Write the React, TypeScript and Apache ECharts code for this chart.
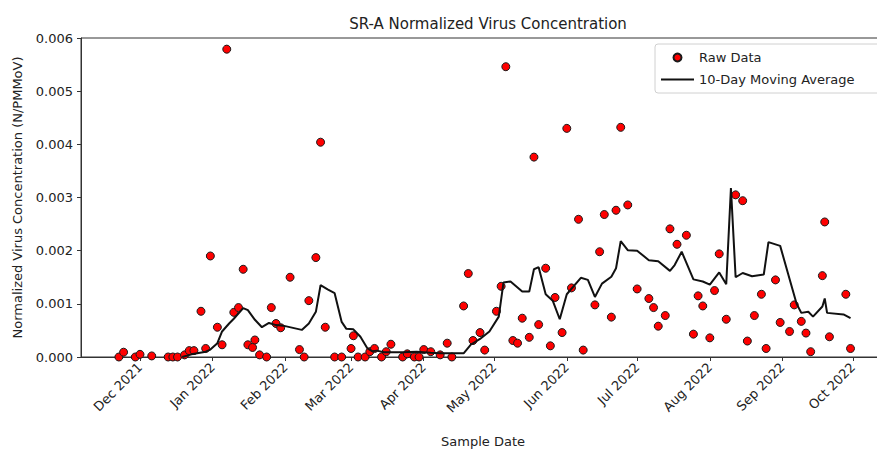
import React, { useEffect, useRef } from "react";
import * as echarts from "echarts";

const rawDates = [
  "2021-11-22", "2021-11-24", "2021-11-29", "2021-12-01", "2021-12-06", "2021-12-13", "2021-12-15", "2021-12-17",
  "2021-12-20", "2021-12-22", "2021-12-24", "2021-12-27", "2021-12-29", "2021-12-31", "2022-01-03", "2022-01-05",
  "2022-01-07", "2022-01-10", "2022-01-12", "2022-01-14", "2022-01-16", "2022-01-18", "2022-01-19", "2022-01-21",
  "2022-01-24", "2022-01-26", "2022-01-28", "2022-01-30", "2022-02-03", "2022-02-07", "2022-02-09", "2022-02-11",
  "2022-02-14", "2022-02-16", "2022-02-18", "2022-02-22", "2022-02-25", "2022-03-01", "2022-03-02", "2022-03-04",
  "2022-03-07", "2022-03-09", "2022-03-11", "2022-03-14", "2022-03-16", "2022-03-18", "2022-03-23", "2022-03-25",
  "2022-03-28", "2022-03-30", "2022-04-01", "2022-04-04", "2022-04-08", "2022-04-11", "2022-04-13", "2022-04-18",
  "2022-04-20", "2022-04-22", "2022-04-25", "2022-04-27", "2022-05-02", "2022-05-04", "2022-05-06", "2022-05-09",
  "2022-05-11", "2022-05-13", "2022-05-16", "2022-05-18", "2022-05-20", "2022-05-23", "2022-05-25", "2022-05-27",
  "2022-05-30", "2022-06-01", "2022-06-03", "2022-06-06", "2022-06-08", "2022-06-13", "2022-06-15", "2022-06-17",
  "2022-06-20", "2022-06-22", "2022-06-24", "2022-06-27", "2022-07-01", "2022-07-06", "2022-07-08", "2022-07-10",
  "2022-07-13", "2022-07-15", "2022-07-18", "2022-07-22", "2022-07-25", "2022-07-27", "2022-07-29", "2022-08-01",
  "2022-08-03", "2022-08-05", "2022-08-08", "2022-08-12", "2022-08-15", "2022-08-17", "2022-08-20", "2022-08-23",
  "2022-08-25", "2022-08-29", "2022-08-31", "2022-09-04", "2022-09-06", "2022-09-09", "2022-09-11", "2022-09-13",
  "2022-09-18", "2022-09-19", "2022-09-21", "2022-09-28", "2022-09-30",
];
const rawValues = [
  0.0, 0.00009, 0.0, 0.00005, 0.00002, 0.0, 0.0, 0.0,
  0.00004, 0.00012, 0.00012, 0.00086, 0.00016, 0.0019, 0.00056, 0.00023,
  0.00579, 0.00084, 0.00093, 0.00165, 0.00023, 0.00018, 0.00032, 0.00004,
  0.0, 0.00093, 0.00063, 0.00055, 0.0015, 0.00014, 0.0, 0.00106,
  0.00187, 0.00404, 0.00056, 0.0, 0.0, 0.00016, 0.0004, 0.0,
  0.0, 0.0001, 0.00016, 0.0, 0.0001, 0.00024, 0.0, 0.00006,
  0.0, 0.0, 0.00014, 0.0001, 0.00004, 0.00026, 0.0, 0.00096,
  0.00157, 0.00031, 0.00046, 0.00013, 0.00086, 0.00133, 0.00546, 0.00031,
  0.00026, 0.00073, 0.00037, 0.00376, 0.00061, 0.00167, 0.00021, 0.00112,
  0.00046, 0.0043, 0.0013, 0.00259, 0.00013, 0.00098, 0.00198, 0.00268,
  0.00075, 0.00276, 0.00432, 0.00286, 0.00128, 0.0011, 0.00093, 0.00058,
  0.00078, 0.00241, 0.00212, 0.00229, 0.00043, 0.00115, 0.00096, 0.00036,
  0.00125, 0.00194, 0.00071, 0.00305, 0.00294, 0.0003, 0.00078, 0.00118,
  0.00016, 0.00145, 0.00065, 0.00048, 0.00098, 0.00067, 0.00045, 0.0001,
  0.00153, 0.00254, 0.00038, 0.00118, 0.00016,
];

const avgDates = [
  "2021-12-19", "2021-12-23", "2021-12-29", "2021-12-31", "2022-01-03", "2022-01-05", "2022-01-08", "2022-01-10",
  "2022-01-14", "2022-01-16",
  "2022-01-19", "2022-01-22", "2022-01-25", "2022-01-28", "2022-01-31", "2022-02-08", "2022-02-11", "2022-02-14",
  "2022-02-16", "2022-02-19", "2022-02-22", "2022-02-25", "2022-02-27", "2022-03-02", "2022-03-05", "2022-03-08",
  "2022-03-10", "2022-03-12", "2022-03-15", "2022-03-23", "2022-03-29", "2022-04-04", "2022-04-08", "2022-04-18",
  "2022-04-21", "2022-04-25", "2022-04-29", "2022-05-03", "2022-05-05", "2022-05-08", "2022-05-13", "2022-05-16",
  "2022-05-18", "2022-05-20", "2022-05-23", "2022-05-26", "2022-05-29", "2022-06-01", "2022-06-07", "2022-06-10",
  "2022-06-13", "2022-06-16", "2022-06-20", "2022-06-22", "2022-06-24", "2022-06-27", "2022-07-01", "2022-07-06",
  "2022-07-10", "2022-07-15", "2022-07-17", "2022-07-20", "2022-07-25", "2022-07-29", "2022-08-01", "2022-08-05",
  "2022-08-08", "2022-08-10", "2022-08-12", "2022-08-15", "2022-08-19", "2022-08-24", "2022-08-26", "2022-08-31",
  "2022-09-07", "2022-09-09", "2022-09-12", "2022-09-14", "2022-09-18", "2022-09-19", "2022-09-20", "2022-09-27",
  "2022-09-30",
];
const avgValues = [
  0.0, 0.00005, 0.0001, 0.00014, 0.00026, 0.00048, 0.00063, 0.00072,
  0.00092, 0.00088,
  0.0007, 0.00056, 0.00064, 0.0006, 0.00059, 0.00051, 0.00063, 0.00085,
  0.00135, 0.00127, 0.0012, 0.00066, 0.00053, 0.00052, 0.00038, 0.00016,
  0.00011, 0.00012, 0.00009, 0.00009, 0.0001, 0.00008, 0.00007, 0.00007,
  0.00023, 0.00034, 0.00048, 0.00076, 0.0014, 0.00142, 0.00123, 0.00123,
  0.00165, 0.00169, 0.00118, 0.00106, 0.00071, 0.00118, 0.00149, 0.00145,
  0.00113, 0.00138, 0.00151, 0.00167, 0.00218, 0.00201, 0.002, 0.00182,
  0.0018, 0.00162, 0.00173, 0.00198, 0.00146, 0.00142, 0.00136, 0.00159,
  0.00137, 0.00318, 0.0015, 0.00158, 0.00152, 0.00155, 0.00216, 0.00209,
  0.001, 0.00083, 0.00085, 0.00076, 0.00095, 0.0011, 0.00083, 0.0008,
  0.00073,
];

const tickDates = [
  "2021-12-01", "2022-01-01", "2022-02-01", "2022-03-01", "2022-04-01", "2022-05-01",
  "2022-06-01", "2022-07-01", "2022-08-01", "2022-09-01", "2022-10-01",
];
const tickLabels = [
  "Dec 2021", "Jan 2022", "Feb 2022", "Mar 2022", "Apr 2022", "May 2022",
  "Jun 2022", "Jul 2022", "Aug 2022", "Sep 2022", "Oct 2022",
];

const ts = (d: string) => Date.parse(d + "T00:00:00Z");
const DAY = 86400000;

export default function App() {
  const ref = useRef<HTMLDivElement>(null);
  useEffect(() => {
    document.body.style.margin = "0";
    if (!ref.current) return;
    const chart = echarts.init(ref.current, undefined, { renderer: "svg" });
    const tickTs = tickDates.map(ts);
    const font = "DejaVu Sans";
    const xMin = ts("2021-12-01") - 25.16 * DAY;
    const xMax = ts("2021-12-01") + 317.7 * DAY;
    chart.setOption({
      animation: false,
      textStyle: { fontFamily: font },
      title: {
        text: "SR-A Normalized Virus Concentration",
        left: 483,
        top: 11,
        textAlign: "center",
        textStyle: { fontFamily: font, fontSize: 15, fontWeight: "normal", color: "#222" },
      },
      legend: {
        orient: "vertical",
        left: 655,
        top: 44,
        padding: [7, 40, 7, 5],
        itemGap: 9,
        itemWidth: 33,
        itemHeight: 8,
        backgroundColor: "#fff",
        borderColor: "#d0d0d0",
        borderWidth: 1,
        borderRadius: 3,
        textStyle: { fontFamily: font, fontSize: 13, color: "#222" },
        data: [
          { name: "Raw Data", icon: "circle" },
          { name: "10-Day Moving Average", itemStyle: { opacity: 0 } },
        ],
      },
      grid: {
        left: 81,
        right: -8,
        top: 38,
        bottom: 92,
        show: true,
        borderColor: "#333",
        borderWidth: 1,
        containLabel: false,
        outerBoundsMode: "none",
      },
      xAxis: {
        type: "value",
        min: xMin,
        max: xMax,
        name: "Sample Date",
        nameLocation: "middle",
        nameGap: 78,
        nameTextStyle: { fontFamily: font, fontSize: 13, color: "#222" },
        axisLine: { show: true, lineStyle: { color: "#333" } },
        axisTick: { show: true, length: 4, lineStyle: { color: "#333" }, customValues: tickTs },
        splitLine: { show: false },
        axisLabel: {
          customValues: tickTs,
          rotate: 45,
          margin: 8,
          fontFamily: font,
          fontSize: 13,
          color: "#222",
          formatter: (v: number) => {
            const i = tickTs.indexOf(v);
            return i >= 0 ? tickLabels[i] : "";
          },
        },
      },
      yAxis: {
        type: "value",
        min: 0,
        max: 0.006,
        interval: 0.001,
        name: "Normalized Virus Concentration (N/PMMoV)",
        nameLocation: "middle",
        nameGap: 57,
        nameTextStyle: { fontFamily: font, fontSize: 13, color: "#222" },
        axisLine: { show: true, lineStyle: { color: "#333" } },
        axisTick: { show: true, length: 4, lineStyle: { color: "#333" } },
        splitLine: { show: false },
        axisLabel: {
          margin: 8,
          fontFamily: font,
          fontSize: 13,
          color: "#222",
          formatter: (v: number) => v.toFixed(3),
        },
      },
      series: [
        {
          name: "Raw Data",
          type: "scatter",
          symbol: "circle",
          symbolSize: 8,
          itemStyle: { color: "#ff0000", borderColor: "#1a1a1a", borderWidth: 1, opacity: 1 },
          data: rawDates.map((d, i) => [ts(d), rawValues[i]]),
          z: 2,
        },
        {
          name: "10-Day Moving Average",
          type: "line",
          symbol: "none",
          showSymbol: false,
          lineStyle: { color: "#111", width: 2 },
          itemStyle: { color: "#111" },
          data: avgDates.map((d, i) => [ts(d), avgValues[i]]),
          z: 3,
        },
      ],
    });
    return () => chart.dispose();
  }, []);
  return <div ref={ref} style={{ position: "absolute", left: 0, top: 0, width: 877, height: 449 }} />;
}
